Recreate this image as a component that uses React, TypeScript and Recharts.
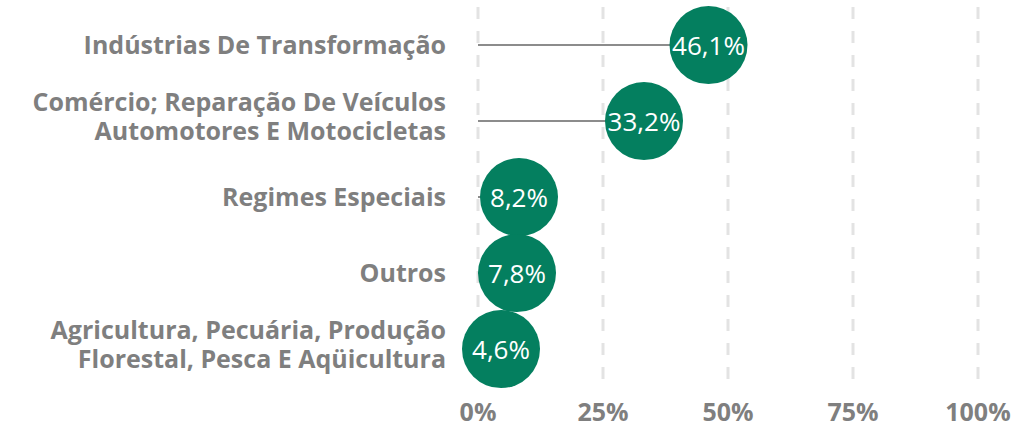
import { ComposedChart, Bar, XAxis, YAxis, CartesianGrid } from "recharts"

const categories = [
  "Indústrias De Transformação",
  "Comércio; Reparação De Veículos|Automotores E Motocicletas",
  "Regimes Especiais",
  "Outros",
  "Agricultura, Pecuária, Produção|Florestal, Pesca E Aqüicultura",
]
const shares = [46.1, 33.2, 8.2, 7.8, 4.6]
const xTicks = [0, 25, 50, 75, 100]

const data = categories.map((name, i) => ({ name, share: shares[i] }))

const FONT = "'Open Sans', sans-serif"
const GREEN = "#047F5F"

const fmt = (v: number) => v.toFixed(1).replace(".", ",") + "%"

function CategoryTick(props: any) {
  const { x, y, payload } = props
  const lines = String(payload.value).split("|")
  const first = lines.length > 1 ? -10 : 9
  return (
    <text x={x} y={y} textAnchor="end" fill="#7F7F7F" fontSize={25} fontWeight={700} fontFamily={FONT}>
      {lines.map((l, i) => (
        <tspan key={i} x={x} dy={i === 0 ? first : 29}>{l}</tspan>
      ))}
    </text>
  )
}

function PctTick(props: any) {
  const { x, y, payload } = props
  return (
    <text x={x} y={y} dy={26} textAnchor="middle" fill="#7F7F7F" fontSize={25} fontWeight={700} fontFamily={FONT}>
      {payload.value}%
    </text>
  )
}

function Lollipop(props: any) {
  const { x, y, width, height, value } = props
  const cy = y + height / 2
  const cx = x + width
  const v = Array.isArray(value) ? value[1] : value
  return (
    <g>
      <line x1={x} y1={cy} x2={cx} y2={cy} stroke="#8C8C8C" strokeWidth={2} />
      <circle cx={cx} cy={cy} r={39} fill={GREEN} />
      <text x={cx} y={cy} dy={10} textAnchor="middle" fill="#fff" fontSize={26} fontFamily={FONT}>
        {fmt(v)}
      </text>
    </g>
  )
}

export default function App() {
  return (
    <div style={{ position: "absolute", left: 0, top: 0, background: "#fff" }}>
      <ComposedChart
        width={1011}
        height={427}
        data={data}
        layout="vertical"
        margin={{ top: 7, right: 33, bottom: 10, left: 0 }}
      >
        <CartesianGrid horizontal={false} stroke="#E3E3E3" strokeWidth={3} strokeDasharray="12 12" />
        <XAxis
          type="number"
          domain={[0, 100]}
          ticks={xTicks}
          axisLine={false}
          tickLine={false}
          height={30}
          tick={<PctTick />}
          interval={0}
        />
        <YAxis
          type="category"
          dataKey="name"
          width={478}
          axisLine={false}
          tickLine={false}
          tick={<CategoryTick />}
          tickMargin={26}
          interval={0}
        />
        <Bar dataKey="share" shape={<Lollipop />} isAnimationActive={false} />
      </ComposedChart>
    </div>
  )
}
